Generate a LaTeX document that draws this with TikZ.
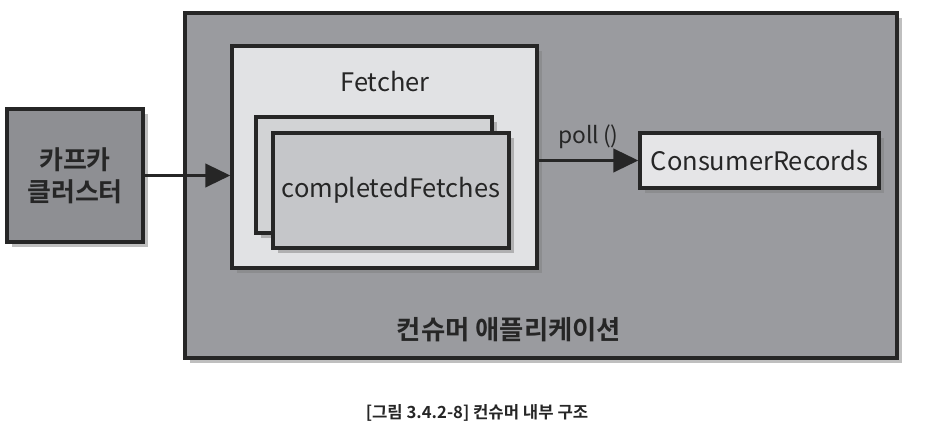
\documentclass[tikz,border=0pt]{standalone}
\usepackage{fontspec}
\setmainfont{Noto Sans CJK KR}[BoldFont={Noto Sans CJK KR Bold}]
\usepackage{xcolor}
\usepackage{tikz}
\usetikzlibrary{arrows.meta,
                positioning,
                shadows}

\definecolor{appgray}{HTML}{9A9B9F}
\definecolor{kafkagray}{HTML}{8E8F93}
\definecolor{fetchlight}{HTML}{E1E2E4}
\definecolor{backgray}{HTML}{D2D3D5}
\definecolor{frontgray}{HTML}{C5C6C9}
\definecolor{recordlight}{HTML}{E5E5E7}
\definecolor{linegray}{HTML}{262626}

\tikzset{
  box/.style={draw=linegray, line width=1.8pt, inner sep=0pt,
              drop shadow={opacity=0.5, shadow xshift=3pt, shadow yshift=-3pt}},
  flow/.style={draw=linegray, line width=2.2pt,
               -{Triangle[length=0.5cm,width=0.46cm]}},
  label/.style={font=\fontsize{14.5}{17}\selectfont, text=linegray},
}

\begin{document}
\begin{tikzpicture}
\useasboundingbox[fill=white] (0,0) rectangle (18.56,8.72);

% consumer application
\node[box, fill=appgray, minimum width=14.24cm, minimum height=6.90cm] (app) at (10.82,5.01) {};
\node[label, font=\bfseries\fontsize{15}{18}\selectfont] (applabel) at (10.18,2.12) {컨슈머 애플리케이션};

% kafka cluster
\node[box, fill=kafkagray, minimum width=2.72cm, minimum height=2.66cm,
      align=center, font=\bfseries\fontsize{14.8}{18}\selectfont, text=linegray] (kafka) at (1.50,5.21) {카프카\\클러스터};

% fetcher
\node[box, fill=fetchlight, minimum width=6.10cm, minimum height=4.44cm] (fetcher) at (7.69,5.58) {};
\node[label] (fetchlabel) at (7.70,7.08) {Fetcher};
\node[box, fill=backgray, minimum width=4.72cm, minimum height=2.32cm] (back) at (7.48,5.22) {};
\node[box, fill=frontgray, minimum width=4.72cm, minimum height=2.30cm, label] (front) at (7.82,4.91) {completedFetches};

% records
\node[box, fill=recordlight, minimum width=4.78cm, minimum height=1.10cm, label] (records) at (15.19,5.51) {ConsumerRecords};

\draw[flow] (kafka.east) -- (kafka.east -| fetcher.west);
\draw[flow] (fetcher.east |- records.west) -- node[above=2pt, label, font=\fontsize{13}{15}\selectfont] (poll) {poll\,()} (records.west);

\node[font=\bfseries\fontsize{9.5}{12}\selectfont, text=linegray] (caption) at (9.54,0.46) {[그림 3.4.2-8] 컨슈머 내부 구조};
\end{tikzpicture}
\end{document}
